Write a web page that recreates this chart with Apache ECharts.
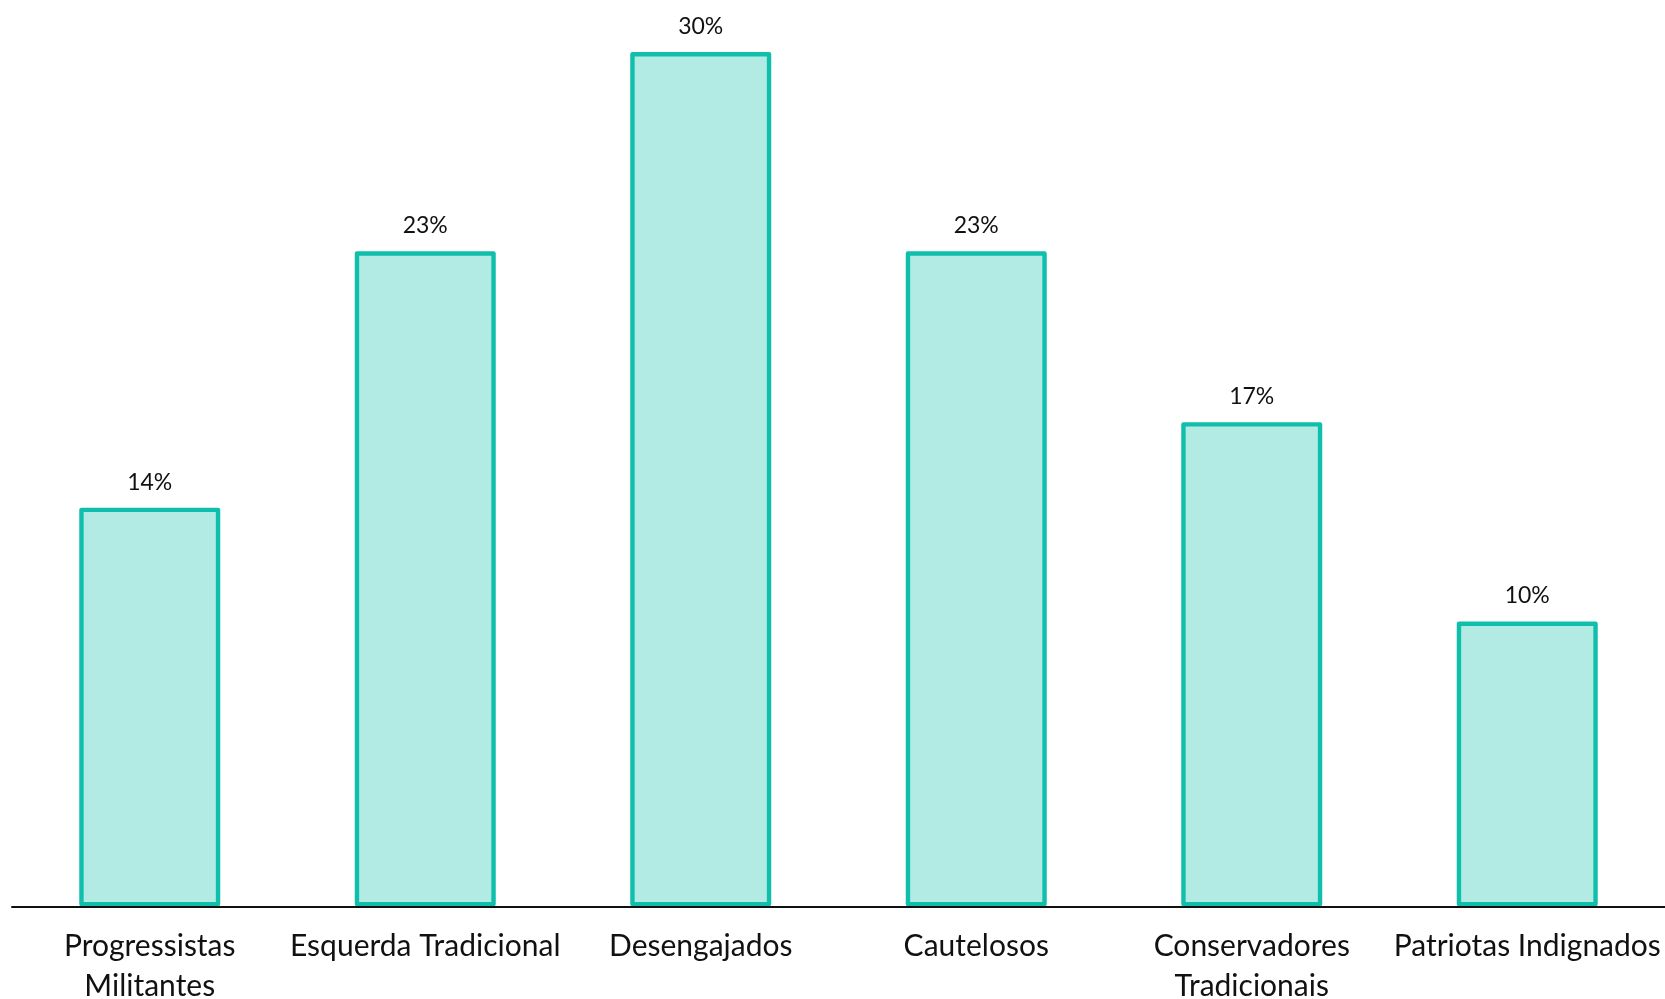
<!DOCTYPE html>
<html>
<head>
<meta charset="utf-8">
<script src="https://cdn.jsdelivr.net/npm/echarts@6/dist/echarts.min.js"></script>
<style>
  html, body { margin: 0; padding: 0; background: #ffffff; }
  #chart { width: 1665px; height: 999px; }
</style>
</head>
<body>
<div id="chart"></div>
<script>
// Segment names (line breaks where the label wraps)
const categories = [
  'Progressistas\nMilitantes',
  'Esquerda Tradicional',
  'Desengajados',
  'Cautelosos',
  'Conservadores\nTradicionais',
  'Patriotas Indignados'
];
// Share of respondents in each segment, %
const shares = [14, 23, 30, 23, 17, 10];

const chart = echarts.init(document.getElementById('chart'), null, { renderer: 'canvas' });

chart.setOption({
  backgroundColor: '#ffffff',
  animation: false,
  grid: {
    left: 12, right: 0, top: 52, bottom: 92.7,
    containLabel: false,
    outerBoundsMode: 'none'
  },
  xAxis: {
    type: 'category',
    data: categories,
    z: 10,
    axisLine: { show: true, lineStyle: { color: '#111111', width: 2 } },
    axisTick: { show: false },
    axisLabel: {
      interval: 0,
      margin: 20,
      color: '#111111',
      fontFamily: 'Lato',
      fontSize: 30,
      lineHeight: 40
    },
    splitLine: { show: false }
  },
  yAxis: {
    type: 'value',
    min: 0,
    max: 30,
    show: false,
    splitLine: { show: false }
  },
  series: [{
    type: 'bar',
    data: shares,
    barWidth: 141,
    itemStyle: {
      color: '#b2ebe4',
      borderColor: '#10bfab',
      borderWidth: 4.4,
      borderJoin: 'round'
    },
    label: {
      show: true,
      position: 'top',
      distance: 14,
      formatter: p => p.value + '%',
      color: '#111111',
      fontFamily: 'Lato',
      fontSize: 23,
      lineHeight: 23
    }
  }]
});
</script>
</body>
</html>
